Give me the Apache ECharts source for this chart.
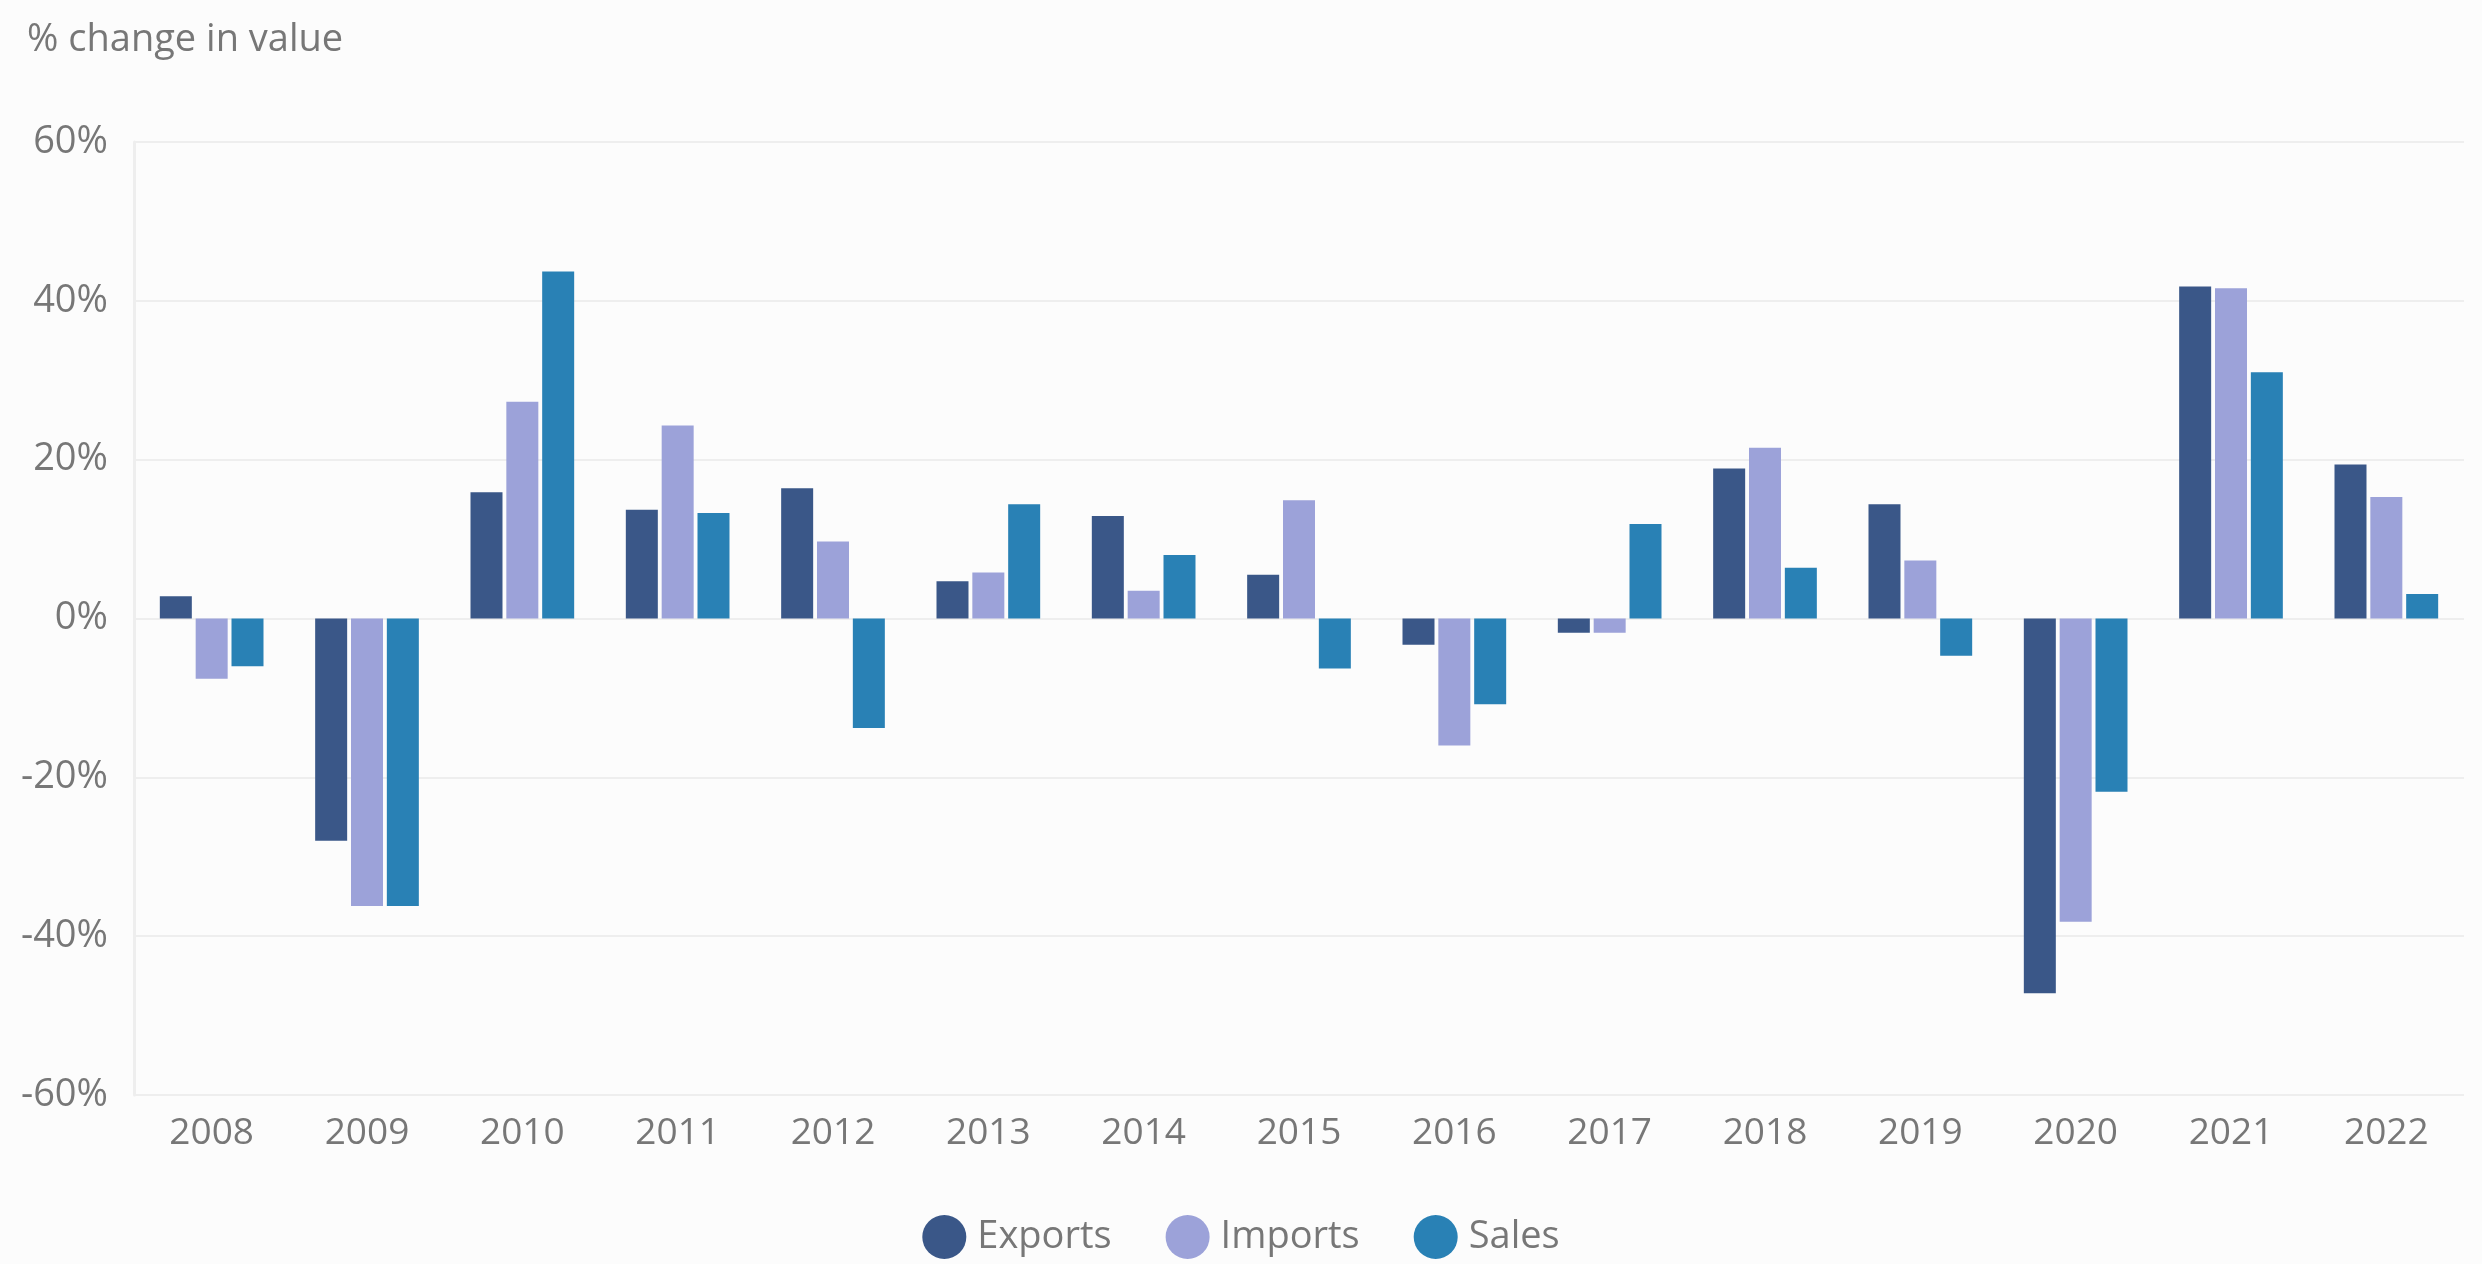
<!DOCTYPE html>
<html>
<head>
<meta charset="utf-8">
<style>
  html, body { margin: 0; padding: 0; background: #fcfcfc; }
  #main { width: 2482px; height: 1264px; }
</style>
<script src="https://cdn.jsdelivr.net/npm/echarts@6/dist/echarts.min.js"></script>
</head>
<body>
<div id="main"></div>
<script>
  var years = ['2008', '2009', '2010', '2011', '2012', '2013', '2014', '2015', '2016', '2017', '2018', '2019', '2020', '2021', '2022'];
  var exportsData = [2.8, -28.0, 15.9, 13.7, 16.4, 4.7, 12.9, 5.5, -3.3, -1.8, 18.9, 14.4, -47.2, 41.8, 19.4];
  var importsData = [-7.6, -36.2, 27.3, 24.3, 9.7, 5.8, 3.5, 14.9, -16.0, -1.8, 21.5, 7.3, -38.2, 41.6, 15.3];
  var salesData = [-6.0, -36.2, 43.7, 13.3, -13.8, 14.4, 8.0, -6.3, -10.8, 11.9, 6.4, -4.7, -21.8, 31.0, 3.1];
  var yTicks = { min: -60, max: 60, step: 20 };

  var FONT = 'Open Sans';
  var GREY = '#777777';
  var colors = ['#3a5788', '#9ca2d9', '#2981b5'];

  var myChart = echarts.init(document.getElementById('main'));

  function bar(name, data) {
    return {
      name: name,
      type: 'bar',
      data: data,
      barWidth: 32,
      barGap: '12%',
      barCategoryGap: '34%'
    };
  }

  var option = {
    backgroundColor: '#fcfcfc',
    color: colors,
    animation: false,
    textStyle: { fontFamily: FONT },
    title: {
      text: '% change in value',
      left: 22,
      top: 16,
      textStyle: { fontFamily: FONT, fontSize: 38, fontWeight: 'normal', color: GREY }
    },
    legend: {
      bottom: 0,
      left: 'center',
      icon: 'circle',
      itemWidth: 44,
      itemHeight: 44,
      itemGap: 54,
      textStyle: { fontFamily: FONT, fontSize: 38, color: GREY, padding: [0, 0, 0, 6] },
      data: ['Exports', 'Imports', 'Sales']
    },
    grid: {
      left: 134,
      right: 18,
      top: 142,
      bottom: 169,
      containLabel: false
    },
    xAxis: {
      type: 'category',
      data: years,
      axisLine: { show: false },
      axisTick: { show: false },
      axisLabel: { fontFamily: FONT, fontSize: 37, color: GREY, margin: 20 }
    },
    yAxis: {
      type: 'value',
      min: yTicks.min,
      max: yTicks.max,
      interval: yTicks.step,
      axisLine: { show: true, lineStyle: { color: '#eeeeee', width: 3 } },
      axisTick: { show: false },
      splitLine: { lineStyle: { color: '#eeeeee', width: 2 } },
      axisLabel: {
        fontFamily: FONT, fontSize: 38, color: GREY, margin: 26,
        formatter: '{value}%'
      }
    },
    series: [
      bar('Exports', exportsData),
      bar('Imports', importsData),
      bar('Sales', salesData)
    ]
  };

  myChart.setOption(option);
</script>
</body>
</html>
